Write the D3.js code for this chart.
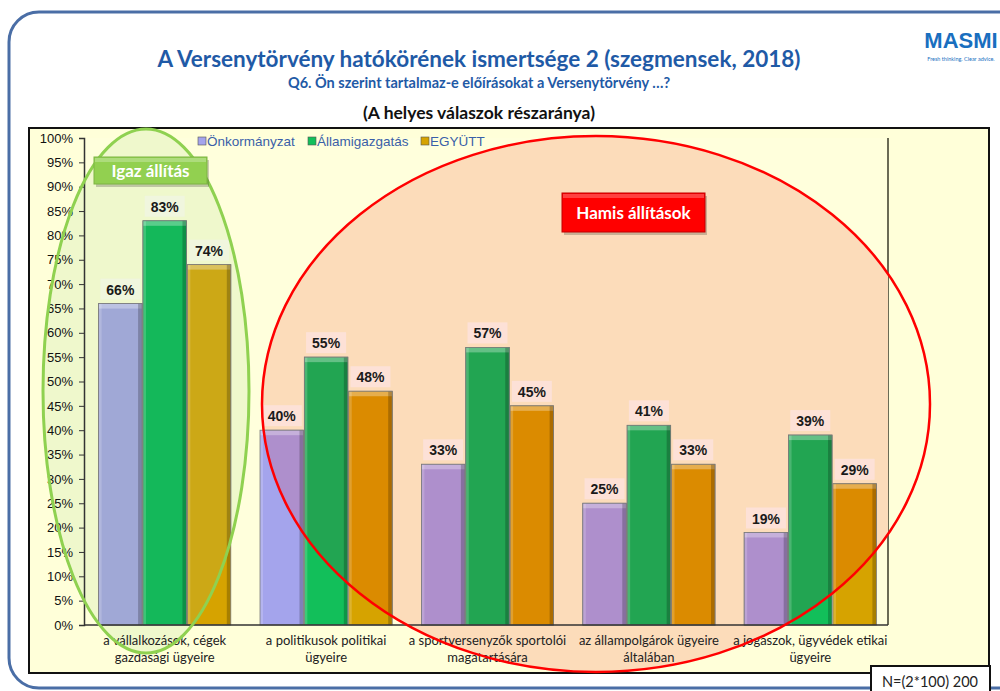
<!DOCTYPE html>
<html>
<head>
<meta charset="utf-8">
<script src="https://cdn.jsdelivr.net/npm/d3@7"></script>
<style>
  body { margin: 0; background: #fff; }
  svg { display: block; }
</style>
</head>
<body>
<svg id="chart" width="1000" height="691"></svg>
<script>
// data
const categories = [
  "a vállalkozások, cégek\ngazdasági ügyeire",
  "a politikusok politikai\nügyeire",
  "a  sportversenyzők sportolói\nmagatartására",
  "az állampolgárok ügyeire\náltalában",
  "a jogászok, ügyvédek etikai\nügyeire"
];
const seriesNames = ["Önkormányzat", "Államigazgatás", "EGYÜTT"];
const onkormanyzat = [66, 40, 33, 25, 19];
const allamigazgatas = [83, 55, 57, 41, 39];
const egyutt = [74, 48, 45, 33, 29];
const yTicks = [0, 5, 10, 15, 20, 25, 30, 35, 40, 45, 50, 55, 60, 65, 70, 75, 80, 85, 90, 95, 100];

const seriesValues = [onkormanyzat, allamigazgatas, egyutt];
const baseColors = ["#a4a4ec", "#12bf5a", "#d6a300"];
const redZoneColors = ["#ae8fcc", "#22a552", "#db8b00"];
const greenZoneColors = ["#a0a8d6", "#14b85a", "#cca816"];

const svg = d3.select("#chart");
const defs = svg.append("defs");

// page frame
svg.append("rect")
  .attr("x", 9).attr("y", 12).attr("width", 1100).attr("height", 676)
  .attr("rx", 30)
  .attr("fill", "#fff").attr("stroke", "#4a6ea6").attr("stroke-width", 3);

// titles
svg.append("text").attr("x", 479).attr("y", 67).attr("text-anchor", "middle")
  .attr("font-family", "Lato, 'Open Sans', sans-serif").attr("font-weight", "bold")
  .attr("font-size", 22.5).attr("fill", "#1f5aa6")
  .text("A Versenytörvény hatókörének ismertsége 2 (szegmensek, 2018)");
svg.append("text").attr("x", 479).attr("y", 88).attr("text-anchor", "middle")
  .attr("font-family", "Lato, 'Open Sans', sans-serif").attr("font-weight", "bold")
  .attr("font-size", 14.5).attr("fill", "#1f5aa6")
  .text("Q6. Ön szerint tartalmaz-e előírásokat a Versenytörvény …?");
svg.append("text").attr("x", 479).attr("y", 119).attr("text-anchor", "middle")
  .attr("font-family", "Lato, 'Open Sans', sans-serif").attr("font-weight", "bold")
  .attr("font-size", 17.5).attr("fill", "#111")
  .text("(A helyes válaszok részaránya)");

// logo
svg.append("text").attr("x", 961).attr("y", 48).attr("text-anchor", "middle")
  .attr("font-family", "'Liberation Sans Narrow', 'Liberation Sans', sans-serif").attr("font-weight", "bold")
  .attr("font-size", 22).attr("fill", "#1a6fbf").text("MASMI");
svg.append("text").attr("x", 961).attr("y", 61).attr("text-anchor", "middle")
  .attr("font-family", "Lato, sans-serif").attr("font-size", 5.5).attr("fill", "#1a6fbf")
  .text("Fresh thinking. Clear advice.");

// chart box
svg.append("rect").attr("x", 29).attr("y", 128).attr("width", 960).attr("height", 545)
  .attr("fill", "#ffffd9").attr("stroke", "#111").attr("stroke-width", 2);

const plot = { left: 84, right: 888, top: 138, bottom: 625 };

// plot area with slight bevel
svg.append("rect").attr("x", plot.left).attr("y", plot.top)
  .attr("width", plot.right - plot.left).attr("height", plot.bottom - plot.top)
  .attr("fill", "#ffffdc");
svg.append("line").attr("x1", plot.right).attr("x2", plot.right)
  .attr("y1", plot.top).attr("y2", plot.bottom)
  .attr("stroke", "#6b6b55").attr("stroke-width", 2);

// scales
const x = d3.scaleBand().domain(categories).range([plot.left, 891])
  .paddingInner(0.17).paddingOuter(0.085);
const xs = d3.scaleBand().domain(seriesNames).range([0, x.bandwidth()]).padding(0.02);
const y = d3.scaleLinear().domain([0, 100]).range([plot.bottom, plot.top]);

// ellipses
const greenEl = { cx: 146, cy: 391, rx: 103, ry: 262 };
const redEl = { cx: 596, cy: 404, rx: 334, ry: 268 };

defs.append("clipPath").attr("id", "fillClip").append("rect")
  .attr("x", 30).attr("y", 129).attr("width", plot.right - 30).attr("height", 543);
defs.append("clipPath").attr("id", "redClip").append("ellipse")
  .attr("cx", redEl.cx).attr("cy", redEl.cy).attr("rx", redEl.rx).attr("ry", redEl.ry);
defs.append("clipPath").attr("id", "greenClip").append("ellipse")
  .attr("cx", greenEl.cx).attr("cy", greenEl.cy).attr("rx", greenEl.rx).attr("ry", greenEl.ry);

const fills = svg.append("g").attr("clip-path", "url(#fillClip)");
fills.append("ellipse").attr("cx", greenEl.cx).attr("cy", greenEl.cy)
  .attr("rx", greenEl.rx).attr("ry", greenEl.ry).attr("fill", "#eff8cc");
fills.append("ellipse").attr("cx", redEl.cx).attr("cy", redEl.cy)
  .attr("rx", redEl.rx).attr("ry", redEl.ry).attr("fill", "#fcdcba");

// bars
const barData = [];
categories.forEach((c, i) => {
  seriesNames.forEach((s, j) => {
    barData.push({ cat: c, series: s, j: j, value: seriesValues[j][i] });
  });
});

function drawBars(g, colors) {
  const bars = g.selectAll("g.bar").data(barData).join("g").attr("class", "bar")
    .attr("transform", d => `translate(${x(d.cat) + xs(d.series)},0)`);
  const w = xs.bandwidth();
  bars.append("rect").attr("x", 0).attr("y", d => y(d.value))
    .attr("width", w).attr("height", d => y(0) - y(d.value))
    .attr("fill", d => colors[d.j]);
  // bevel: light top, light left, dark right
  bars.append("rect").attr("x", 0).attr("y", d => y(d.value))
    .attr("width", w).attr("height", 5)
    .attr("fill", "#fff").attr("opacity", 0.3);
  bars.append("rect").attr("x", 0).attr("y", d => y(d.value))
    .attr("width", 3).attr("height", d => y(0) - y(d.value))
    .attr("fill", "#fff").attr("opacity", 0.18);
  bars.append("rect").attr("x", w - 4).attr("y", d => y(d.value))
    .attr("width", 4).attr("height", d => y(0) - y(d.value))
    .attr("fill", "#000").attr("opacity", 0.22);
  bars.append("rect").attr("x", 0).attr("y", d => y(d.value))
    .attr("width", w).attr("height", d => y(0) - y(d.value))
    .attr("fill", "none").attr("stroke", "#7a7a7a").attr("stroke-width", 0.8);
}
drawBars(svg.append("g"), baseColors);
drawBars(svg.append("g").attr("clip-path", "url(#redClip)"), redZoneColors);
drawBars(svg.append("g").attr("clip-path", "url(#greenClip)"), greenZoneColors);

// axes
const yAxis = d3.axisLeft(y).tickValues(yTicks).tickFormat(d => d + "%").tickSize(5).tickPadding(6);
const yg = svg.append("g").attr("transform", `translate(${plot.left},0)`).call(yAxis);
yg.select(".domain").attr("stroke", "#333").attr("stroke-width", 1.5);
yg.selectAll(".tick line").attr("stroke", "#333");
yg.selectAll(".tick text").attr("font-family", "Arial, 'Liberation Sans', sans-serif")
  .attr("font-size", 13).attr("fill", "#111");

svg.append("line").attr("x1", plot.left).attr("x2", plot.right)
  .attr("y1", plot.bottom).attr("y2", plot.bottom)
  .attr("stroke", "#333").attr("stroke-width", 1.5);

// category labels
const catLabels = svg.append("g").selectAll("text").data(categories).join("text")
  .attr("x", d => x(d) + x.bandwidth() / 2)
  .attr("y", 645)
  .attr("text-anchor", "middle")
  .attr("font-family", "Lato, 'Open Sans', sans-serif").attr("font-size", 13)
  .attr("fill", "#222");
catLabels.each(function (d) {
  const t = d3.select(this);
  d.split("\n").forEach((line, k) => {
    t.append("tspan").attr("x", x(d) + x.bandwidth() / 2).attr("dy", k === 0 ? 0 : 17).text(line);
  });
});

// value labels
const vl = svg.append("g").selectAll("g").data(barData).join("g")
  .attr("transform", d => `translate(${x(d.cat) + xs(d.series) + xs.bandwidth() / 2},${y(d.value) - 14})`);
vl.append("rect").attr("x", -20).attr("y", -11).attr("width", 40).attr("height", 21)
  .attr("fill", (d, i) => i < 3 ? "#f0f6e0" : "#fde2dc").attr("opacity", 0.85);
vl.append("text").attr("text-anchor", "middle").attr("dy", "0.36em")
  .attr("font-family", "Arial, 'Liberation Sans', sans-serif").attr("font-weight", "bold")
  .attr("font-size", 14).attr("fill", "#1a1a1a")
  .text(d => d.value + "%");

// ellipse outlines
svg.append("ellipse").attr("cx", greenEl.cx).attr("cy", greenEl.cy)
  .attr("rx", greenEl.rx).attr("ry", greenEl.ry)
  .attr("fill", "none").attr("stroke", "#8fd150").attr("stroke-width", 3);
svg.append("ellipse").attr("cx", redEl.cx).attr("cy", redEl.cy)
  .attr("rx", redEl.rx).attr("ry", redEl.ry)
  .attr("fill", "none").attr("stroke", "#ff0000").attr("stroke-width", 2.5);

// legend
const legendX = [198, 308, 421];
const lg = svg.append("g").selectAll("g").data(seriesNames).join("g")
  .attr("transform", (d, i) => `translate(${legendX[i]},141)`);
lg.append("rect").attr("x", 0).attr("y", -4).attr("width", 8).attr("height", 8)
  .attr("fill", (d, i) => baseColors[i]).attr("stroke", "#555").attr("stroke-width", 0.6);
lg.append("text").attr("x", 9).attr("y", 5)
  .attr("font-family", "Arial, 'Liberation Sans', sans-serif").attr("font-size", 13.5)
  .attr("fill", "#3a5fa8").text(d => d);

// annotation boxes
function tag(x0, y0, w, h, fill, stroke, label) {
  const g = svg.append("g");
  g.append("rect").attr("x", x0 + 2).attr("y", y0 + 3).attr("width", w).attr("height", h)
    .attr("fill", "#000").attr("opacity", 0.2);
  g.append("rect").attr("x", x0).attr("y", y0).attr("width", w).attr("height", h)
    .attr("fill", fill).attr("stroke", stroke).attr("stroke-width", 1);
  g.append("rect").attr("x", x0 + 1).attr("y", y0 + 1).attr("width", w - 2).attr("height", 4)
    .attr("fill", "#fff").attr("opacity", 0.25);
  g.append("text").attr("x", x0 + w / 2).attr("y", y0 + h / 2).attr("dy", "0.36em")
    .attr("text-anchor", "middle")
    .attr("font-family", "Lato, 'Open Sans', sans-serif").attr("font-weight", "bold")
    .attr("font-size", 17).attr("fill", "#fff").text(label);
}
tag(94, 157, 113, 27, "#92d050", "#7cb342", "Igaz állítás");
tag(562, 193, 143, 39, "#ff0000", "#c00000", "Hamis állítások");

// sample size box
svg.append("rect").attr("x", 871).attr("y", 666).attr("width", 119).attr("height", 30)
  .attr("fill", "#fff").attr("stroke", "#111").attr("stroke-width", 2);
svg.append("text").attr("x", 930).attr("y", 682).attr("dy", "0.36em").attr("text-anchor", "middle")
  .attr("font-family", "Lato, 'Open Sans', sans-serif").attr("font-size", 14.5).attr("fill", "#222")
  .text("N=(2*100) 200");
</script>
</body>
</html>
